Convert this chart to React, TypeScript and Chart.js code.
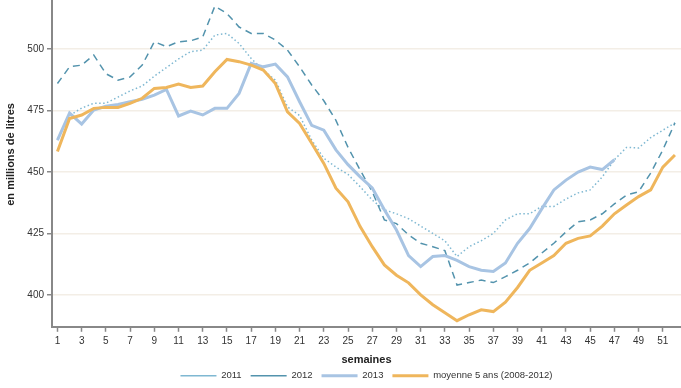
import React, { useEffect, useRef } from "react";
import { Chart, registerables } from "chart.js";

Chart.register(...registerables);

const weeks = [1,2,3,4,5,6,7,8,9,10,11,12,13,14,15,16,17,18,19,20,21,22,23,24,25,26,27,28,29,30,31,32,33,34,35,36,37,38,39,40,41,42,43,44,45,46,47,48,49,50,51,52];

const xTicks = [1,3,5,7,9,11,13,15,17,19,21,23,25,27,29,31,33,35,37,39,41,43,45,47,49,51];
const yTicks = [400, 425, 450, 475, 500];

const y2011 = [463,473,476,478,478,480.5,483,485,489,492.5,496,499,499.6,505.7,506.4,502.3,496.2,491.5,487.4,476.5,473,463,455.6,452,449,444,438.6,434.6,433,431,428,425,422,415.6,419.6,422,425,430.5,433,433,436,436,439,441.5,442.7,448,455,460,459.8,464,467,470];
const y2012 = [486,492.8,493.5,497.6,490,487.4,488.7,493.5,503,501,503,503.4,505,517.5,514.5,509,506.4,506.4,503.7,499.6,492.8,485.4,479,471,460,450.8,442,430.5,429,424.4,421,419.6,418,404,405,406,405,407.4,410,413,417,421,425.6,429.7,430.5,433,437,440.6,442,449.6,459,470];
const y2013 = [463,474,469.5,475.2,476.8,477.5,478.6,479.6,481.3,483.6,472.8,474.8,473.2,475.9,475.9,482,494.2,492.8,493.9,488.7,478.6,469,467,459,453,448,443.5,434.6,426.4,416,411.5,415.6,416,414,411.5,410,409.5,413,421,427,435,442.7,446.7,450,452,451,455];
const yMoyenne = [458.3,471.8,473.2,475.9,476.3,476.3,477.9,480,484,484.4,485.8,484.4,485,490.8,495.8,494.9,493.5,491.5,486,474.5,469.8,461.7,453.5,443.4,437.9,427.8,419.6,412.2,408,404.9,400,396,392.7,389.5,391.9,393.9,393.2,397,403,410,413,416,421,423,424,428,433,436.6,440,442.7,452,456.9];

const seriesLabels = ["2011", "2012", "2013", "moyenne 5 ans (2008-2012)"];

const toPoints = (vals: number[]) => vals.map((v, i) => ({ x: weeks[i], y: v }));

const legendShift = {
  id: "legendShift",
  afterInit(chart: any) {
    const lg: any = chart.legend;
    if (!lg) return;
    const fit = lg.fit.bind(lg);
    lg.fit = function () {
      fit();
      this.height = 17;
    };
    const draw = lg.draw.bind(lg);
    lg.draw = function () {
      const t = this.top;
      this.top = t - 9;
      draw();
      this.top = t;
    };
  },
  beforeDraw(chart: any) {
    const ys: any = chart.scales && chart.scales.y;
    if (!ys || ys.__titleWrapped) return;
    ys.__titleWrapped = true;
    const orig = ys.drawTitle.bind(ys);
    ys.drawTitle = function () {
      const b = this.bottom;
      this.bottom = b - 18;
      orig();
      this.bottom = b;
    };
  },
};

export default function App() {
  const ref = useRef<HTMLCanvasElement | null>(null);

  useEffect(() => {
    if (!ref.current) return;
    Chart.defaults.font.family = "'Liberation Sans', Arial, sans-serif";
    Chart.defaults.color = "#333";
    const chart = new Chart(ref.current, {
      type: "line",
      data: {
        datasets: [
          {
            label: seriesLabels[0],
            data: toPoints(y2011),
            borderColor: "#7fb8d2",
            backgroundColor: "#7fb8d2",
            borderWidth: 1.5,
            borderDash: [1.5, 2.5],
            pointRadius: 0,
            tension: 0,
            order: 3,
          },
          {
            label: seriesLabels[1],
            data: toPoints(y2012),
            borderColor: "#5393ad",
            backgroundColor: "#5393ad",
            borderWidth: 1.5,
            borderDash: [7, 5],
            pointRadius: 0,
            tension: 0,
            order: 2,
          },
          {
            label: seriesLabels[2],
            data: toPoints(y2013),
            borderColor: "#a8c4e3",
            backgroundColor: "#a8c4e3",
            borderWidth: 3,
            pointRadius: 0,
            tension: 0,
            order: 1,
          },
          {
            label: seriesLabels[3],
            data: toPoints(yMoyenne),
            borderColor: "#efb65c",
            backgroundColor: "#efb65c",
            borderWidth: 3,
            pointRadius: 0,
            tension: 0,
            order: 0,
          },
        ],
      },
      options: {
        responsive: false,
        animation: false,
        layout: { padding: { left: 0, right: 0, top: 0, bottom: 0 } },
        plugins: {
          tooltip: { enabled: false },
          legend: {
            position: "bottom",
            fullSize: false,
            labels: {
              usePointStyle: true,
              pointStyle: "line",
              pointStyleWidth: 36,
              boxHeight: 10,
              padding: 9,
              font: { size: 9.5 },
              color: "#333",
              sort: (a: any, b: any) => a.datasetIndex - b.datasetIndex,
            },
          },
        },
        scales: {
          x: {
            type: "linear",
            min: 0.55,
            max: 52.5,
            afterBuildTicks: (axis: any) => {
              axis.ticks = xTicks.map((v) => ({ value: v }));
            },
            ticks: {
              autoSkip: false,
              maxRotation: 0,
              font: { size: 10 },
              color: "#333",
              padding: 3,
            },
            grid: {
              drawOnChartArea: false,
              tickColor: "#888",
              tickLength: 5,
              tickWidth: 1.5,
            },
            border: { color: "#888", width: 2 },
            title: {
              display: true,
              text: "semaines",
              font: { size: 11, weight: "bold" },
              color: "#222",
              padding: { top: 4, bottom: 4 },
            },
          },
          y: {
            type: "linear",
            min: 387,
            max: 520,
            afterBuildTicks: (axis: any) => {
              axis.ticks = yTicks.map((v) => ({ value: v }));
            },
            afterFit: (axis: any) => {
              axis.width = 52;
              axis.paddingTop = 0;
              axis.paddingBottom = 0;
            },
            ticks: {
              font: { size: 10 },
              color: "#333",
              padding: 3,
            },
            grid: {
              color: "#f3eee6",
              lineWidth: 1.5,
              tickColor: "#888",
              tickLength: 5,
              tickWidth: 1.5,
            },
            border: { color: "#888", width: 2 },
            title: {
              display: true,
              text: "en millions de litres",
              font: { size: 11, weight: "bold" },
              color: "#222",
              padding: { top: 4, bottom: 4 },
            },
          },
        },
      },
      plugins: [legendShift],
    } as any);
    return () => chart.destroy();
  }, []);

  return (
    <div style={{ position: "absolute", left: 0, top: 0, width: 681, height: 388, background: "#fff" }}>
      <canvas ref={ref} width={681} height={388} />
    </div>
  );
}
